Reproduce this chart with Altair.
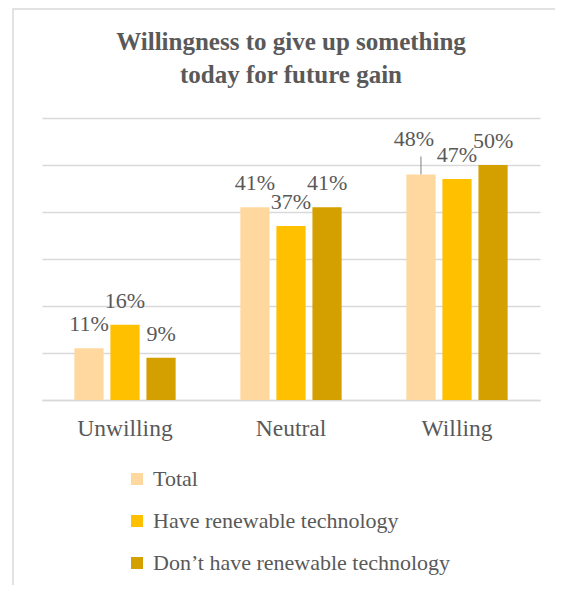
import altair as alt
import pandas as pd

categories = ["Unwilling", "Neutral", "Willing"]
series = ["Total", "Have renewable technology", "Don’t have renewable technology"]
total = [11, 41, 48]
have = [16, 37, 47]
dont = [9, 41, 50]
colors = ["#FFD89F", "#FFC000", "#D4A000"]
y_ticks = [0, 10, 20, 30, 40, 50, 60]
title_lines = ["Willingness to give up something", "today for future gain"]

rows = []
for s, vals in zip(series, [total, have, dont]):
    for c, v in zip(categories, vals):
        rows.append({"category": c, "series": s, "value": v, "label": f"{v}%"})
df = pd.DataFrame(rows)

FONT = "'Liberation Serif', 'Times New Roman', 'DejaVu Serif', serif"
GRAY = "#595959"
GRID = "#D9D9D9"

x = alt.X("category:N", sort=categories,
          scale=alt.Scale(paddingInner=0.39, paddingOuter=0.195),
          axis=alt.Axis(title=None, labelAngle=0, ticks=False, domainColor=GRID,
                        domainWidth=1.5, labelFontSize=23.5, labelFont=FONT,
                        labelColor=GRAY, labelPadding=16, grid=False))
xo = alt.XOffset("series:N", sort=series,
                 scale=alt.Scale(paddingInner=0.19, paddingOuter=0))
y = alt.Y("value:Q", scale=alt.Scale(domain=[0, 60]),
          axis=alt.Axis(title=None, labels=False, ticks=False, domain=False,
                        grid=True, gridColor=GRID, gridWidth=1.3, values=y_ticks))

base = alt.Chart(df)

bars = base.mark_bar().encode(
    x=x, xOffset=xo, y=y,
    color=alt.Color("series:N", sort=series,
                    scale=alt.Scale(domain=series, range=colors),
                    legend=alt.Legend(orient="none", legendX=84, legendY=350,
                                      direction="vertical", title=None,
                                      symbolType="square", symbolSize=144,
                                      symbolStrokeWidth=0, labelFont=FONT,
                                      labelFontSize=22, labelColor=GRAY,
                                      rowPadding=20, labelOffset=5, padding=0,
                                      labelLimit=0)),
)

is_special = "datum.category == 'Willing' && datum.series == 'Total'"

labels = base.transform_filter("!(" + is_special + ")").mark_text(
    font=FONT, fontSize=22, color=GRAY, baseline="alphabetic", dy=-17
).encode(x=x, xOffset=xo, y=y, text="label:N")

special_label = base.transform_filter(is_special).mark_text(
    font=FONT, fontSize=22, color=GRAY, baseline="alphabetic", dx=-7, dy=-28
).encode(x=x, xOffset=xo, y=y, text="label:N")

leader = base.transform_filter(is_special).transform_calculate(
    top="datum.value + 3.8"
).mark_rule(color="#7F7F7F", strokeWidth=1).encode(
    x=x, xOffset=xo, y=y, y2="top:Q"
)

frame = alt.Chart(pd.DataFrame({"a": [0]})).mark_rect(
    fill="transparent", stroke=GRID, strokeWidth=1.5
).encode(x=alt.value(-29), y=alt.value(-109), x2=alt.value(600), y2=alt.value(600))

chart = alt.layer(frame, bars, labels, special_label, leader).properties(
    width=498, height=282,
    autosize=alt.AutoSizeParams(type="none"),
    padding={"left": 34, "top": 110, "right": 15, "bottom": 185},
    title=alt.TitleParams(title_lines, font=FONT, fontSize=25, fontWeight="bold",
                          color=GRAY, anchor="middle", offset=-80, lineHeight=33),
).configure_view(stroke=None)

chart.save("out.html", embed_options={"renderer": "svg", "actions": False})
